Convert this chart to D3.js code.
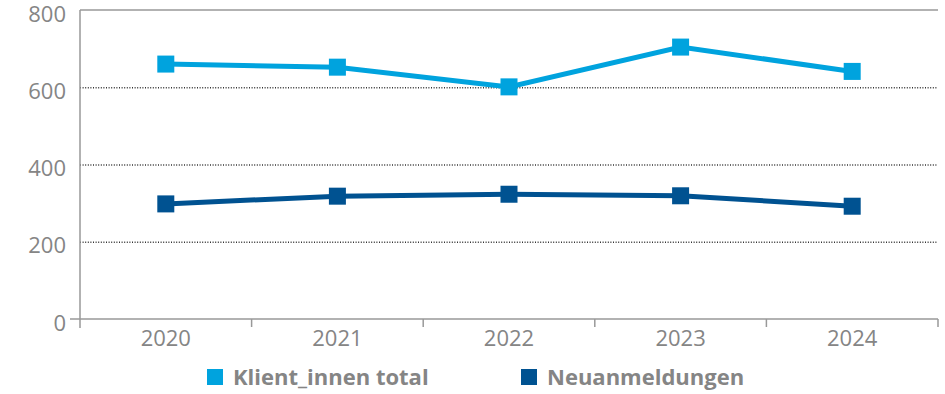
<!DOCTYPE html>
<html>
<head>
<meta charset="utf-8">
<script src="https://cdn.jsdelivr.net/npm/d3@7"></script>
<style>
  body { margin: 0; background: #fff; }
  text { font-family: "Open Sans", Lato, sans-serif; fill: #858585; }
</style>
</head>
<body>
<div id="chart"></div>
<script>
const years = ["2020", "2021", "2022", "2023", "2024"];
const klienten = [660, 652, 601, 704, 641];
const neuanmeldungen = [298, 318, 323, 319, 292];
const yTicks = [0, 200, 400, 600, 800];
const seriesNames = ["Klient_innen total", "Neuanmeldungen"];
const seriesColors = ["#00a3de", "#005291"];

const W = 945, H = 394;
const m = { left: 80, right: 7, top: 10, bottom: 75 };

const svg = d3.select("#chart").append("svg")
    .attr("width", W)
    .attr("height", H);

const x = d3.scaleBand()
    .domain(years)
    .range([m.left, W - m.right]);

const y = d3.scaleLinear()
    .domain([0, 800])
    .range([H - m.bottom, m.top]);

// dotted gridlines
svg.append("g")
    .selectAll("line")
    .data(yTicks.filter(d => d > 0 && d < 800))
    .enter().append("line")
    .attr("x1", m.left)
    .attr("x2", W - m.right)
    .attr("y1", d => y(d) + 0.5)
    .attr("y2", d => y(d) + 0.5)
    .attr("stroke", "#333")
    .attr("stroke-width", 1.3)
    .attr("stroke-dasharray", "1,1.6");

// top border
svg.append("line")
    .attr("x1", m.left).attr("x2", W - m.right)
    .attr("y1", y(800)).attr("y2", y(800))
    .attr("stroke", "#999").attr("stroke-width", 1.5);

// y axis
const yAxis = svg.append("g")
    .attr("transform", "translate(" + m.left + ",0)")
    .call(d3.axisLeft(y).tickValues(yTicks).tickSize(0).tickPadding(14));
yAxis.select(".domain").remove();
yAxis.selectAll("text")
    .attr("dy", "0.5em")
    .style("font-size", "22px");

svg.append("line")
    .attr("x1", m.left).attr("x2", m.left)
    .attr("y1", y(800)).attr("y2", y(0) + 9)
    .attr("stroke", "#999").attr("stroke-width", 1.5);

// x axis
svg.append("line")
    .attr("x1", m.left - 10).attr("x2", W - m.right)
    .attr("y1", y(0)).attr("y2", y(0))
    .attr("stroke", "#999").attr("stroke-width", 1.5);

const bounds = years.map(d => x(d)).concat([x(years[years.length - 1]) + x.bandwidth()]);
svg.append("g")
    .selectAll("line")
    .data(bounds.slice(1))
    .enter().append("line")
    .attr("x1", d => d).attr("x2", d => d)
    .attr("y1", y(0)).attr("y2", y(0) + 8)
    .attr("stroke", "#999").attr("stroke-width", 1.5);

svg.append("g")
    .selectAll("text")
    .data(years)
    .enter().append("text")
    .attr("x", d => x(d) + x.bandwidth() / 2)
    .attr("y", y(0) + 27)
    .attr("text-anchor", "middle")
    .style("font-size", "22px")
    .text(d => d);

// lines + markers
const line = d3.line()
    .x((d, i) => x(years[i]) + x.bandwidth() / 2)
    .y(d => y(d));

[klienten, neuanmeldungen].forEach((vals, si) => {
    svg.append("path")
        .attr("d", line(vals))
        .attr("fill", "none")
        .attr("stroke", seriesColors[si])
        .attr("stroke-width", 5);

    svg.append("g")
        .selectAll("rect")
        .data(vals)
        .enter().append("rect")
        .attr("x", (d, i) => x(years[i]) + x.bandwidth() / 2 - 8.5)
        .attr("y", d => y(d) - 8.5)
        .attr("width", 17)
        .attr("height", 17)
        .attr("fill", seriesColors[si]);
});

// legend
const legendX = [207, 521];
const legend = svg.append("g")
    .selectAll("g")
    .data(seriesNames)
    .enter().append("g")
    .attr("transform", (d, i) => "translate(" + legendX[i] + ",369)");

legend.append("rect")
    .attr("width", 16).attr("height", 16)
    .attr("fill", (d, i) => seriesColors[i]);

legend.append("text")
    .attr("x", 26)
    .attr("y", 16)
    .style("font-size", "22px")
    .style("font-weight", "bold")
    .text(d => d);
</script>
</body>
</html>
